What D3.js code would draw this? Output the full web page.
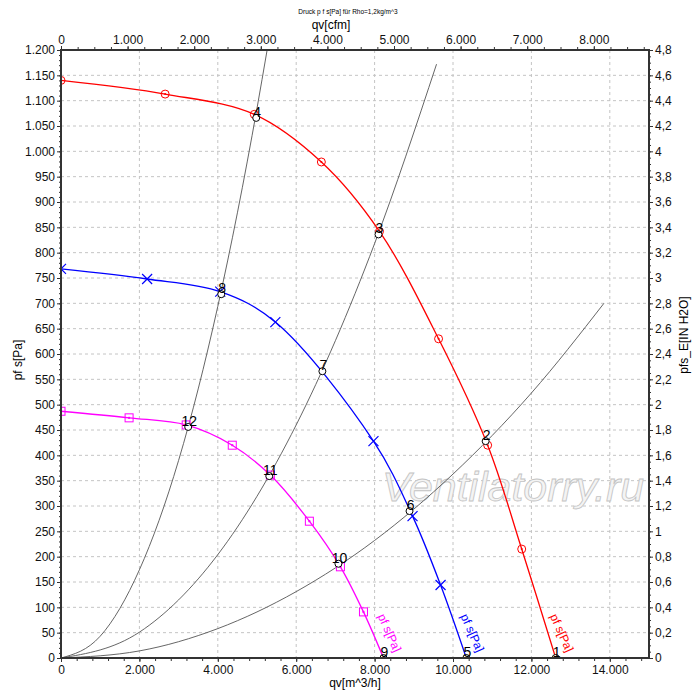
<!DOCTYPE html>
<html>
<head>
<meta charset="utf-8">
<script src="https://cdn.jsdelivr.net/npm/d3@7"></script>
<style>
  body { margin: 0; background: #fff; }
  svg { font-family: "Liberation Sans", Arial, sans-serif; }
  .grid line { stroke: #c4c4c4; stroke-dasharray: 3,3; stroke-width: 1; }
  .axis text { font-size: 12px; fill: #111; }
  .axis line { stroke: #333; }
  .axis path { display: none; }
</style>
</head>
<body>
<div id="chart"></div>
<script>
  // fan curves: qv [m^3/h] and pf s [Pa]
  const redQ = [0, 2657, 4931, 6642, 8125, 9632, 10884, 11753, 12620];
  const redP = [1140, 1113, 1073, 979, 842, 630, 420, 215, 0];
  const blueQ = [0, 2197, 4062, 5468, 7971, 8968, 9683, 10340];
  const blueP = [768, 748, 723, 663, 428, 280, 144, 0];
  const magQ = [0, 1737, 3194, 4369, 5340, 6336, 7128, 7716, 8227];
  const magP = [487, 474, 460, 420, 361, 270, 180, 91, 0];

  // system curves (black)
  const sysAQ = [0, 1000, 2000, 3000, 4000, 5000, 5258];
  const sysAP = [0, 43, 174, 390, 694, 1085, 1200];
  const sysBQ = [0, 2000, 4000, 6000, 8000, 9580];
  const sysBP = [0, 51, 204, 460, 818, 1172];
  const sysCQ = [0, 2000, 4000, 6000, 8000, 10000, 12000, 13850];
  const sysCP = [0, 14, 58, 131, 232, 363, 523, 700];

  // numbered operating points
  const opLabels = ["1", "2", "3", "4", "5", "6", "7", "8", "9", "10", "11", "12"];
  const opQ = [12620, 10833, 8099, 4980, 10340, 8891, 6668, 4088, 8227, 7077, 5314, 3245];
  const opP = [0, 428, 836, 1066, 0, 290, 566, 718, 0, 186, 359, 456];

  const curveLabel = "pf s[Pa]";
  const M3H_PER_CFM = 1.699;

(function () {
  const locale = d3.formatLocale({ decimal: ",", thousands: ".", grouping: [3], currency: ["", "€"] });
  const fmtInt = locale.format(",.0f");
  const fmtDec = locale.format(".1~f");

  const width = 700, height = 700;
  const mLeft = 61, mRight = 649, mTop = 50, mBottom = 658;

  const x = d3.scaleLinear().domain([0, 15000]).range([mLeft, mRight]);
  const xc = d3.scaleLinear().domain([0, 15000 / M3H_PER_CFM]).range([mLeft, mRight]);
  const y = d3.scaleLinear().domain([0, 1200]).range([mBottom, mTop]);
  const yr = d3.scaleLinear().domain([0, 4.8]).range([mBottom, mTop]);

  const svg = d3.select("#chart").append("svg")
    .attr("width", width)
    .attr("height", height);

  svg.append("defs").append("clipPath")
    .attr("id", "clip")
    .append("rect")
    .attr("x", mLeft).attr("y", mTop)
    .attr("width", mRight - mLeft).attr("height", mBottom - mTop);

  // grid
  const grid = svg.append("g").attr("class", "grid");
  grid.append("g").selectAll("line")
    .data(d3.range(50, 1200, 50))
    .join("line")
    .attr("x1", mLeft).attr("x2", mRight)
    .attr("y1", d => y(d)).attr("y2", d => y(d));
  grid.append("g").selectAll("line")
    .data(d3.range(2000, 15000, 2000))
    .join("line")
    .attr("y1", mTop).attr("y2", mBottom)
    .attr("x1", d => x(d)).attr("x2", d => x(d));

  // watermark
  svg.append("text")
    .attr("x", 382).attr("y", 501)
    .attr("font-size", 40)
    .attr("font-style", "italic")
    .attr("textLength", 262)
    .attr("lengthAdjust", "spacingAndGlyphs")
    .attr("fill", "#f4f4f4")
    .attr("stroke", "#c4c4c4")
    .attr("stroke-width", 0.8)
    .text("Ventilatorry.ru");

  const plot = svg.append("g").attr("clip-path", "url(#clip)");

  const sysLine = d3.line()
    .x(d => x(d[0]))
    .y(d => y(d[1]))
    .curve(d3.curveMonotoneX);
  const fanLine = d3.line()
    .x(d => x(d[0]))
    .y(d => y(d[1]))
    .curve(d3.curveCatmullRom.alpha(0.5));

  // system curves
  [[sysAQ, sysAP], [sysBQ, sysBP], [sysCQ, sysCP]].forEach(([qs, ps]) => {
    plot.append("path")
      .datum(d3.zip(qs, ps))
      .attr("fill", "none")
      .attr("stroke", "#555")
      .attr("stroke-width", 0.9)
      .attr("d", sysLine);
  });

  const fans = [
    { q: redQ, p: redP, color: "#ff0000", marker: "circle" },
    { q: blueQ, p: blueP, color: "#0000ff", marker: "cross" },
    { q: magQ, p: magP, color: "#ff00ff", marker: "square" }
  ];

  for (const fan of fans) {
    const pts = d3.zip(fan.q, fan.p);
    plot.append("path")
      .datum(pts)
      .attr("fill", "none")
      .attr("stroke", fan.color)
      .attr("stroke-width", 1.3)
      .attr("d", fanLine);

    const marks = plot.append("g")
      .selectAll("g")
      .data(pts.slice(0, -1))
      .join("g")
      .attr("transform", d => `translate(${x(d[0])},${y(d[1])})`);
    if (fan.marker === "circle") {
      marks.append("circle").attr("r", 4)
        .attr("fill", "none").attr("stroke", fan.color).attr("stroke-width", 1);
      marks.append("circle").attr("r", 1).attr("fill", fan.color);
    } else if (fan.marker === "square") {
      marks.append("rect").attr("x", -4).attr("y", -4).attr("width", 8).attr("height", 8)
        .attr("fill", "none").attr("stroke", fan.color).attr("stroke-width", 1);
      marks.append("rect").attr("x", -1).attr("y", -1).attr("width", 2).attr("height", 2)
        .attr("fill", fan.color);
    } else {
      marks.append("path").attr("d", "M-5,-5L5,5M-5,5L5,-5")
        .attr("stroke", fan.color).attr("stroke-width", 1.2);
    }

    // label along the curve, near its end
    const end = pts[pts.length - 1];
    svg.append("text")
      .attr("transform", `translate(${x(end[0]) - 6},${y(end[1]) - 42}) rotate(66)`)
      .attr("font-size", 12)
      .attr("fill", fan.color)
      .text(curveLabel);
  }

  // operating points
  const ops = plot.append("g")
    .selectAll("g")
    .data(d3.zip(opQ, opP, opLabels))
    .join("g")
    .attr("transform", d => `translate(${x(d[0])},${y(d[1])})`);
  ops.append("circle").attr("r", 3.5)
    .attr("fill", "#fff").attr("stroke", "#000").attr("stroke-width", 1);
  svg.append("g")
    .selectAll("text")
    .data(d3.zip(opQ, opP, opLabels))
    .join("text")
    .attr("x", d => x(d[0]) + 1)
    .attr("y", d => y(d[1]) - 1)
    .attr("text-anchor", "middle")
    .attr("font-size", 14)
    .attr("fill", "#000")
    .text(d => d[2]);

  // axes
  const gl = svg.append("g").attr("class", "axis").attr("transform", `translate(${mLeft},0)`);
  gl.call(d3.axisLeft(y).tickValues(d3.range(0, 1201, 10)).tickSize(2).tickFormat(""));
  gl.append("g").call(d3.axisLeft(y).tickValues(d3.range(0, 1201, 50)).tickSize(4).tickPadding(2).tickFormat(fmtInt));

  const gr = svg.append("g").attr("class", "axis").attr("transform", `translate(${mRight},0)`);
  gr.call(d3.axisRight(yr).tickValues(d3.range(0, 97).map(i => i * 0.05)).tickSize(2).tickFormat(""));
  gr.append("g").call(d3.axisRight(yr).tickValues(d3.range(0, 25).map(i => i * 0.2)).tickSize(4).tickPadding(2).tickFormat(fmtDec));

  const gb = svg.append("g").attr("class", "axis").attr("transform", `translate(0,${mBottom})`);
  gb.call(d3.axisBottom(x).tickValues(d3.range(0, 15001, 400)).tickSize(3).tickFormat(""));
  gb.append("g").call(d3.axisBottom(x).tickValues(d3.range(0, 14001, 2000)).tickSize(4).tickPadding(3).tickFormat(fmtInt));

  const gt = svg.append("g").attr("class", "axis").attr("transform", `translate(0,${mTop})`);
  gt.call(d3.axisTop(xc).tickValues(d3.range(0, 8801, 250)).tickSize(3).tickFormat(""));
  gt.append("g").call(d3.axisTop(xc).tickValues(d3.range(0, 8001, 1000)).tickSize(4).tickPadding(2).tickFormat(fmtInt));

  // frame
  svg.append("rect")
    .attr("x", mLeft).attr("y", mTop)
    .attr("width", mRight - mLeft).attr("height", mBottom - mTop)
    .attr("fill", "none")
    .attr("stroke", "#333")
    .attr("stroke-width", 2);

  // titles
  svg.append("text")
    .attr("x", 348).attr("y", 14)
    .attr("text-anchor", "middle")
    .attr("font-size", 6.5)
    .text("Druck p f s[Pa] für Rho=1,2kg/m^3");
  svg.append("text")
    .attr("x", 331).attr("y", 29)
    .attr("text-anchor", "middle")
    .attr("font-size", 12)
    .text("qv[cfm]");
  svg.append("text")
    .attr("x", 355).attr("y", 687)
    .attr("text-anchor", "middle")
    .attr("font-size", 12)
    .text("qv[m^3/h]");
  svg.append("text")
    .attr("transform", "translate(22,360) rotate(-90)")
    .attr("text-anchor", "middle")
    .attr("font-size", 12)
    .text("pf s[Pa]");
  svg.append("text")
    .attr("transform", "translate(688,335) rotate(-90)")
    .attr("text-anchor", "middle")
    .attr("font-size", 12)
    .text("pfs_E[IN H2O]");
})();
</script>
</body>
</html>
